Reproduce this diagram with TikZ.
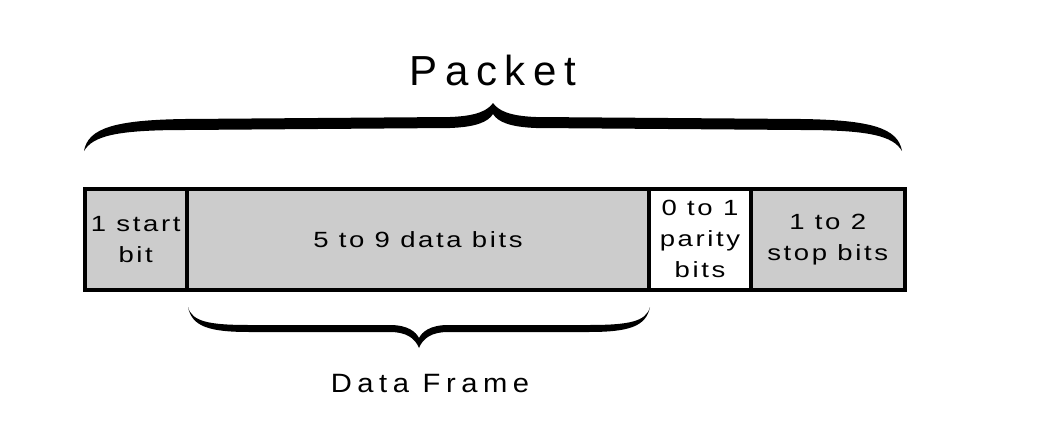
\documentclass[tikz,border=0pt]{standalone}
\usepackage{fontspec}
\setmainfont{Liberation Sans}
\newfontfamily\cellfont[FakeStretch=1.25,LetterSpace=12]{Liberation Sans}
\newfontfamily\titlefont[LetterSpace=18]{Liberation Sans}
\newfontfamily\framefont[FakeStretch=1.1,LetterSpace=21]{Liberation Sans}
\usetikzlibrary{positioning}
\definecolor{cellgray}{RGB}{204,204,204}

\begin{document}
\begin{tikzpicture}[x=1pt,y=-1pt,
  cell/.style={draw,line width=4pt,inner sep=0pt,outer sep=0pt,minimum height=101.5pt,align=center,font=\cellfont\fontsize{22}{31}\selectfont},
  bracefill/.style={fill=black}]
\useasboundingbox (0,0) rectangle (1038,442);
\node[cell,fill=cellgray,minimum width=102.5pt,anchor=north west] (start) at (84.5,188.5) {1 start\\bit};
\node[cell,fill=cellgray,minimum width=462pt,right=0pt of start] (data) {5 to 9 data bits};
\node[cell,fill=white,minimum width=102pt,right=0pt of data] (parity) {0 to 1\\parity\\bits};
\node[cell,fill=cellgray,minimum width=153.5pt,right=0pt of parity] (stop) {1 to 2\\stop bits};
% packet brace
\fill[bracefill] (84,151) .. controls (88,128) and (115,120) .. (185,119) -- (450,117) .. controls (478,116) and (488,110) .. (493,103) .. controls (498,110) and (508,116) .. (536,117) -- (801,119) .. controls (871,120) and (898,128) .. (902,151) .. controls (893,136) and (870,130) .. (801,130) -- (536,128) .. controls (510,127) and (498,122) .. (493,114) .. controls (488,122) and (476,127) .. (450,128) -- (185,130) .. controls (116,130) and (93,136) .. (84,151) -- cycle;
% data frame brace
\fill[bracefill] (188,307) .. controls (192,322) and (210,325) .. (250,325) -- (390,325) .. controls (408,325) and (416,332) .. (419,338) .. controls (422,332) and (430,325) .. (448,325) -- (588,325) .. controls (628,325) and (646,322) .. (650,307) .. controls (646,327) and (628,332) .. (588,332) -- (448,332) .. controls (432,332) and (423,338) .. (419,348) .. controls (415,338) and (406,332) .. (390,332) -- (250,332) .. controls (210,332) and (192,327) .. (188,307) -- cycle;
\node[font=\titlefont\fontsize{42}{50}\selectfont,anchor=base] (packet) at (493,85) {Packet};
\node[font=\framefont\fontsize{26.5}{31}\selectfont,anchor=base] (frame) at (430,392) {Data Frame};
\end{tikzpicture}
\end{document}
